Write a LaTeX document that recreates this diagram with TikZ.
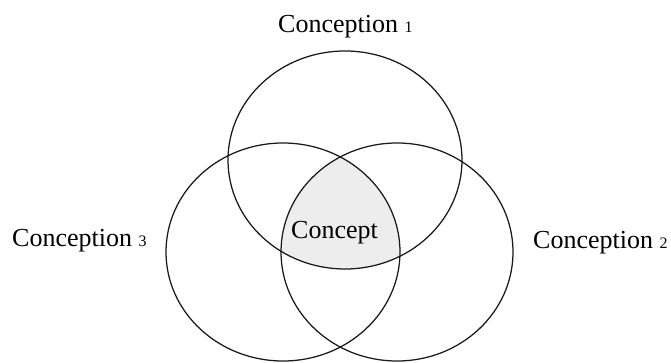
\documentclass[tikz,border=0pt]{standalone}
\usepackage{fontspec}
\setmainfont{Liberation Serif}
\begin{document}
\begin{tikzpicture}[x=1pt,y=-1pt,
  ring/.style={draw=black!90,line width=1.25pt},
  lbl/.style={inner sep=0pt,anchor=base west,font=\fontsize{26}{30}\selectfont}]
\useasboundingbox (0,0) rectangle (671,363);
\coordinate (c1) at (345,160);
\coordinate (c3) at (283,252);
\coordinate (c2) at (397,252);
% shaded common region
\begin{scope}
  \clip (c1) ellipse [x radius=117, y radius=109];
  \clip (c2) ellipse [x radius=116, y radius=109];
  \fill[black!7] (c3) ellipse [x radius=117, y radius=109];
\end{scope}
\draw[ring] (c1) ellipse [x radius=117, y radius=109];
\draw[ring] (c3) ellipse [x radius=117, y radius=109];
\draw[ring] (c2) ellipse [x radius=116, y radius=109];
\newcommand{\smalldigit}[1]{{\fontsize{16}{16}\selectfont #1}}
\node[lbl] (t1) at (278,33) {Conception \smalldigit{1}};
\node[lbl] (t3) at (12,247) {Conception \smalldigit{3}};
\node[lbl] (t2) at (533,248) {Conception \smalldigit{2}};
\node[lbl] (tc) at (291,238) {Concept};
\end{tikzpicture}
\end{document}
